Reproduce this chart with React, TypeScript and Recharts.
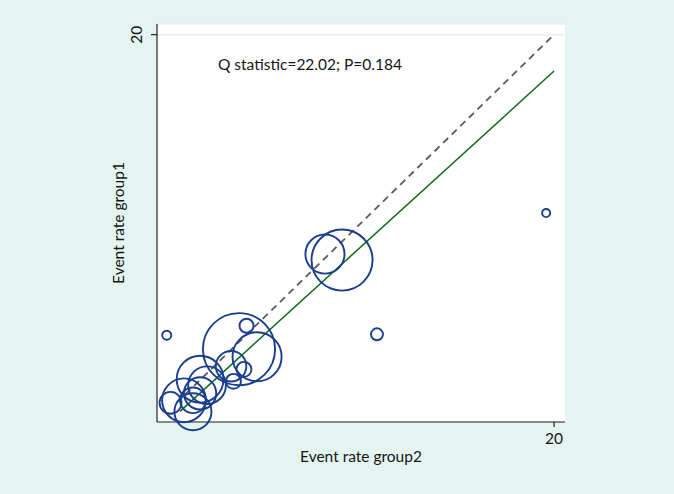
import React from 'react';
import {
    ScatterChart,
    Scatter,
    XAxis,
    YAxis,
    ZAxis,
    CartesianGrid,
    ReferenceLine,
    ReferenceDot
} from 'recharts';

// one entry per study
const rateGroup2 = [0.49, 4.51, 4.13, 5.04, 3.73, 4.38, 3.85, 2.17, 2.52, 2.17, 0.68, 1.36, 1.81, 1.81, 8.46, 9.32, 11.08, 19.6];
const rateGroup1 = [4.48, 4.97, 3.76, 3.37, 2.88, 2.72, 2.10, 2.21, 1.90, 1.48, 0.99, 1.12, 0.53, 1.12, 8.67, 8.36, 4.53, 10.79];
const studyWeight = [1.5, 3.6, 95, 44, 17, 4.1, 4.1, 40, 26, 19, 8.8, 35, 25, 12, 28, 68, 2.6, 1.2];

const axisTicks = [20];
const axisMax = 20.55;

// line of equality and fitted line (end points)
const equalityX = [1, 20];
const equalityY = [1, 20];
const fitX = [1.16, 20];
const fitY = [0.55, 18.12];

const annotation = 'Q statistic=22.02; P=0.184';
const annotX = 3.07;
const annotY = 18.44;

const studies = rateGroup2.map((x, i) => ({x, y: rateGroup1[i], w: studyWeight[i]}));

const FONT = 'Lato, sans-serif';
const INK = '#151515';

const XTick = (props: any) => {
    const {x, y, payload} = props;
    return (
        <text x={x} y={y + 15} textAnchor="middle" fontSize={15.5} fill={INK} fontFamily={FONT}>
            {payload.value}
        </text>
    );
};

const YTick = (props: any) => {
    const {x, y, payload} = props;
    return (
        <text x={x} y={y} transform={`rotate(-90, ${x}, ${y})`} textAnchor="middle" fontSize={15.5}
              fill={INK} fontFamily={FONT}>
            {payload.value}
        </text>
    );
};

const XTitle = (props: any) => {
    const {viewBox} = props;
    return (
        <text x={viewBox.x + viewBox.width / 2} y={viewBox.y + 40} textAnchor="middle" fontSize={15.5}
              fill={INK} fontFamily={FONT}>
            Event rate group2
        </text>
    );
};

const YTitle = (props: any) => {
    const {viewBox} = props;
    const cx = 124;
    const cy = viewBox.y + viewBox.height / 2;
    return (
        <text x={cx} y={cy} transform={`rotate(-90, ${cx}, ${cy})`} textAnchor="middle" fontSize={15.5}
              fill={INK} fontFamily={FONT}>
            Event rate group1
        </text>
    );
};

const App = () => {
    return (
        <div style={{width: 674, height: 494, background: '#e4f4f0', fontFamily: FONT}}>
            <style>{'body{margin:0}'}</style>
            <ScatterChart width={674} height={494} margin={{top: 24, right: 109, left: 97, bottom: 22}}>
                <CartesianGrid fill="#fff" vertical={false} stroke="#e8f0f0" strokeWidth={1.5}/>
                <XAxis type="number" dataKey="x" domain={[0, axisMax]} ticks={axisTicks} height={50}
                       tickSize={5} tick={<XTick/>} stroke="#222" strokeWidth={1.2}
                       label={<XTitle/>}/>
                <YAxis type="number" dataKey="y" domain={[0, axisMax]} ticks={axisTicks} width={60}
                       tickSize={6} tickMargin={9} tick={<YTick/>} stroke="#222" strokeWidth={1.2}
                       label={<YTitle/>}/>
                <ZAxis type="number" dataKey="w" domain={[0, 100]} range={[0, 4301]}/>
                <Scatter data={studies} shape="circle" fill="none" stroke="#1b3d8e" strokeWidth={1.9}
                         isAnimationActive={false}/>
                <ReferenceLine segment={[{x: equalityX[0], y: equalityY[0]}, {x: equalityX[1], y: equalityY[1]}]}
                               stroke="#5a5a5a" strokeWidth={1.8} strokeDasharray="7 5" ifOverflow="visible"/>
                <ReferenceLine segment={[{x: fitX[0], y: fitY[0]}, {x: fitX[1], y: fitY[1]}]}
                               stroke="#0e6a18" strokeWidth={1.5} ifOverflow="visible"/>
                <ReferenceDot x={annotX} y={annotY} r={0} fill="none" stroke="none" ifOverflow="visible"
                              label={{value: annotation, position: 'right', offset: 0, fontSize: 15.5, fill: INK, fontFamily: FONT}}/>
            </ScatterChart>
        </div>
    );
};

export default App;
